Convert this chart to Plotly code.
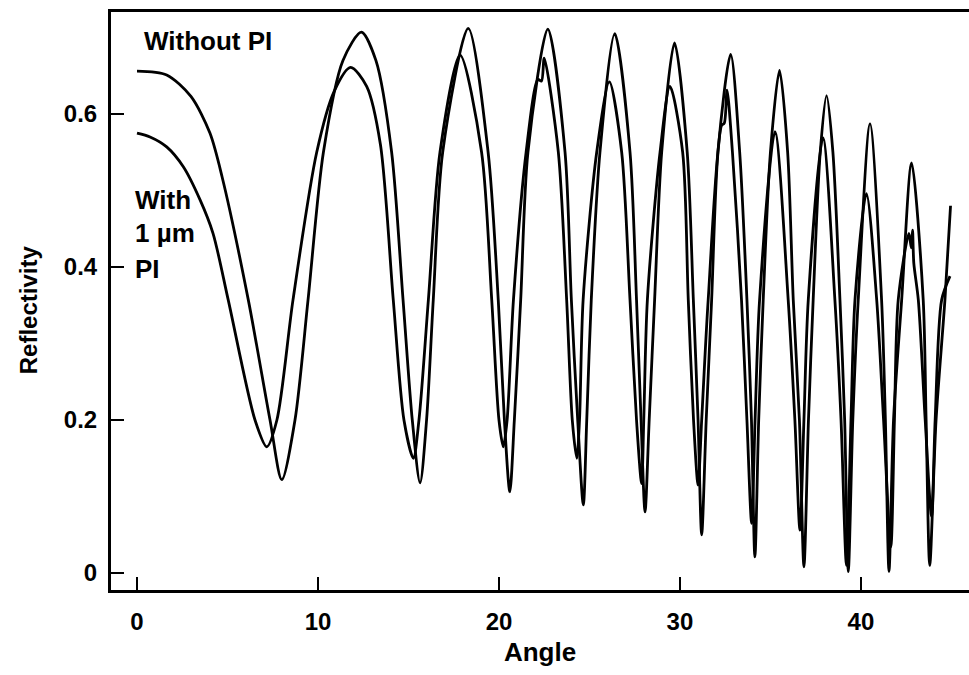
import plotly.graph_objects as go

# Curve without PI
angle_without = [0, 1.64, 2.98, 4.03, 4.7, 6.15, 7.35, 8.0, 8.73, 9.45, 10.3, 11.38, 12.4, 13.2, 14.07, 14.7,
                 15.21, 15.64, 16.0, 16.37, 16.89, 18.3, 19.4, 19.96, 20.3, 20.6, 20.85, 21.2, 21.6, 22.7,
                 23.65, 24.0, 24.35, 24.66, 24.85, 25.1, 25.58, 26.4, 27.24, 27.6, 27.85, 28.07, 28.3, 28.6,
                 28.99, 29.7, 30.4, 30.74, 31.0, 31.2, 31.45, 31.75, 32.1, 32.8, 33.3, 33.7, 33.95, 34.14,
                 34.35, 34.6, 35.0, 35.5, 35.95, 36.26, 36.6, 36.85, 37.1, 37.36, 37.75, 38.1, 38.45, 38.84,
                 39.1, 39.3, 39.55, 39.85, 40.5, 41.14, 41.35, 41.55, 41.8, 42.25, 42.8, 43.44, 43.6, 43.8,
                 44.15, 44.64, 44.95]
refl_without = [0.656, 0.651, 0.623, 0.575, 0.518, 0.357, 0.2, 0.122, 0.2, 0.357, 0.55, 0.67, 0.707, 0.67, 0.55, 0.357,
                0.2, 0.118, 0.2, 0.357, 0.55, 0.712, 0.55, 0.357, 0.2, 0.106, 0.2, 0.357, 0.55, 0.711,
                0.55, 0.357, 0.2, 0.089, 0.2, 0.357, 0.55, 0.705, 0.55, 0.357, 0.2, 0.080, 0.2, 0.357,
                0.55, 0.693, 0.55, 0.357, 0.2, 0.050, 0.2, 0.357, 0.55, 0.678, 0.55, 0.357, 0.2, 0.021,
                0.2, 0.357, 0.55, 0.657, 0.55, 0.357, 0.2, 0.008, 0.2, 0.357, 0.55, 0.624, 0.55, 0.357,
                0.2, 0.002, 0.2, 0.357, 0.587, 0.357, 0.2, 0.002, 0.2, 0.357, 0.536, 0.357, 0.2, 0.010,
                0.2, 0.357, 0.480]

# Curve with 1 um PI
angle_with = [0, 0.72, 1.64, 2.56, 3.48, 4.2, 5.04, 6.52, 7.17, 7.73, 8.62, 9.93, 10.9, 11.8, 12.69, 13.45, 14.16,
              14.75, 15.27, 15.58, 16.1, 16.74, 17.85, 19.04, 19.6, 20.0, 20.24, 20.45, 20.8, 21.5, 22.15,
              22.35, 22.5, 23.28, 23.74, 24.05, 24.3, 24.45, 24.65, 25.4, 26.1, 26.78, 27.24, 27.6, 27.88,
              28.0, 28.2, 28.9, 29.45, 30.15, 30.46, 30.75, 31.0, 31.2, 31.56, 32.3, 32.45, 32.6, 32.9,
              33.4, 33.7, 33.96, 34.15, 34.4, 35.25, 35.98, 36.35, 36.63, 36.85, 37.09, 37.9, 38.56, 38.9,
              39.2, 39.45, 39.67, 40.3, 40.87, 41.25, 41.65, 41.85, 42.06, 42.65, 42.78, 42.85, 42.92,
              43.17, 43.55, 43.9, 44.1, 44.46, 44.92]
refl_with = [0.575, 0.570, 0.557, 0.531, 0.488, 0.444, 0.357, 0.2, 0.165, 0.2, 0.357, 0.55, 0.63, 0.661, 0.636, 0.56,
             0.357, 0.2, 0.150, 0.2, 0.357, 0.55, 0.677, 0.55, 0.357, 0.2, 0.165, 0.2, 0.357, 0.55, 0.645,
             0.643, 0.673, 0.55, 0.357, 0.2, 0.150, 0.2, 0.357, 0.55, 0.642, 0.55, 0.357, 0.2, 0.117,
             0.2, 0.357, 0.55, 0.636, 0.55, 0.357, 0.2, 0.115, 0.2, 0.357, 0.585, 0.588, 0.631, 0.55,
             0.357, 0.2, 0.065, 0.2, 0.357, 0.577, 0.357, 0.2, 0.056, 0.2, 0.357, 0.569, 0.357, 0.2,
             0.010, 0.2, 0.357, 0.496, 0.357, 0.2, 0.034, 0.2, 0.357, 0.444, 0.425, 0.448, 0.405,
             0.357, 0.2, 0.074, 0.2, 0.357, 0.388]

x_ticks = [0, 10, 20, 30, 40]
y_ticks = [0, 0.2, 0.4, 0.6]
y_tick_text = ["0", "0.2", "0.4", "0.6"]

FONT = "Liberation Sans, Arial, sans-serif"

fig = go.Figure()
fig.add_trace(go.Scatter(x=angle_without, y=refl_without, mode="lines",
                         line=dict(color="black", width=2.8, shape="spline", smoothing=0.8),
                         showlegend=False, name="Without PI"))
fig.add_trace(go.Scatter(x=angle_with, y=refl_with, mode="lines",
                         line=dict(color="black", width=2.8, shape="spline", smoothing=0.8),
                         showlegend=False, name="With 1 µm PI"))

ann_font = dict(family=FONT, size=26, color="black", weight="bold")
fig.add_annotation(x=0.25, y=0.695, text="Without PI", showarrow=False, xanchor="left", yanchor="middle",
                   font=ann_font)
fig.add_annotation(x=-0.22, y=0.488, text="With", showarrow=False, xanchor="left", yanchor="middle",
                   font=ann_font)
fig.add_annotation(x=-0.22, y=0.444, text="1 µm", showarrow=False, xanchor="left", yanchor="middle",
                   font=ann_font)
fig.add_annotation(x=-0.22, y=0.398, text="PI", showarrow=False, xanchor="left", yanchor="middle",
                   font=ann_font)
# y axis title placed to match the reference position
fig.add_annotation(xref="paper", yref="paper", x=-0.0967, y=0.484, text="Reflectivity", textangle=-90,
                   showarrow=False, xanchor="center", yanchor="middle",
                   font=dict(family=FONT, size=24, color="black", weight="bold"))

fig.update_layout(
    width=969, height=675,
    margin=dict(l=111, r=0, t=12, b=85),
    paper_bgcolor="white", plot_bgcolor="white",
    font=dict(family=FONT, color="black"),
    xaxis=dict(range=[-1.436, 45.97], tickvals=x_ticks, ticks="inside", ticklen=13, tickwidth=2,
               tickcolor="black", showline=True, linewidth=3, linecolor="black", mirror=True,
               showgrid=False, zeroline=False, tickfont=dict(size=24, family=FONT, weight="bold"),
               ticklabelstandoff=8,
               title=dict(text="Angle", font=dict(size=26, family=FONT, weight="bold"), standoff=10)),
    yaxis=dict(range=[-0.0222, 0.7333], tickvals=y_ticks, ticktext=y_tick_text, ticks="inside",
               ticklen=13, tickwidth=2, tickcolor="black", showline=True, linewidth=3, linecolor="black",
               showgrid=False, zeroline=False, tickfont=dict(size=24, family=FONT, weight="bold"),
               ticklabelstandoff=6),
)

fig.write_html("out.html")
